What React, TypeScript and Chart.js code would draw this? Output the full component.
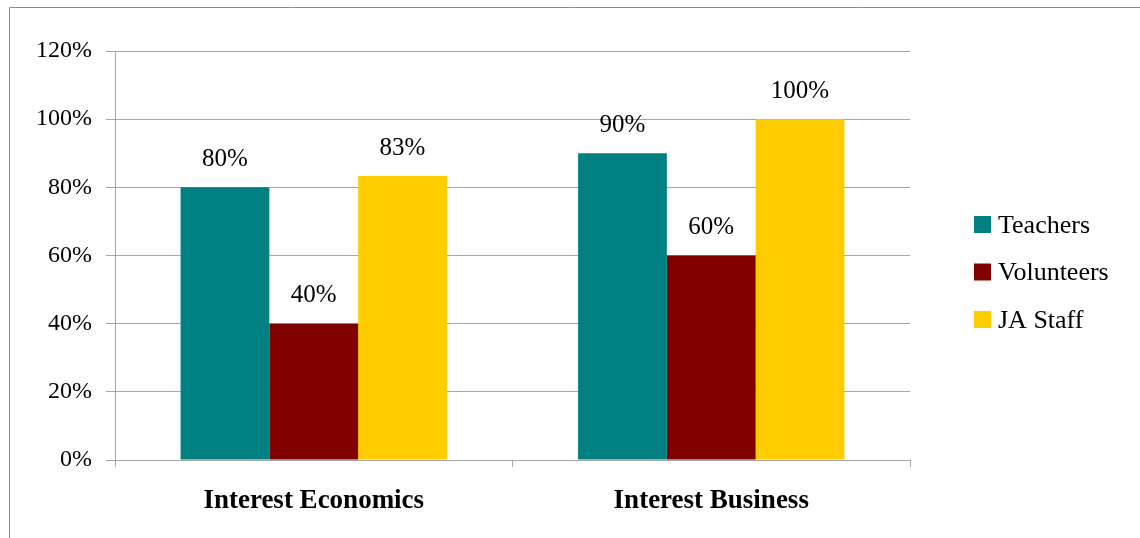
import React, { useEffect, useRef } from "react";
import { Chart, registerables } from "chart.js";

Chart.register(...registerables);

const categories = ["Interest Economics", "Interest Business"];
const seriesNames = ["Teachers", "Volunteers", "JA Staff"];
const teachers = [80, 90];
const volunteers = [40, 60];
const jaStaff = [83.33, 100];
const seriesColors = ["#008080", "#800000", "#FFCC00"];
const yTicks = [0, 20, 40, 60, 80, 100, 120];

const FONT = "'Liberation Serif', 'Times New Roman', serif";

const borderPlugin = {
  id: "outerBorder",
  beforeDraw(chart: any) {
    const ctx = chart.ctx;
    ctx.save();
    ctx.fillStyle = "#ffffff";
    ctx.fillRect(0, 0, chart.width, chart.height);
    ctx.strokeStyle = "#8c8c8c";
    ctx.lineWidth = 1;
    ctx.beginPath();
    ctx.moveTo(9.5, chart.height + 2);
    ctx.lineTo(9.5, 7.5);
    ctx.lineTo(chart.width + 2, 7.5);
    ctx.stroke();
    ctx.restore();
  },
};

const labelPlugin = {
  id: "barLabels",
  afterDatasetsDraw(chart: any) {
    const ctx = chart.ctx;
    ctx.save();
    ctx.font = `25px ${FONT}`;
    ctx.fillStyle = "#000";
    ctx.textAlign = "center";
    ctx.textBaseline = "middle";
    chart.data.datasets.forEach((ds: any, i: number) => {
      const meta = chart.getDatasetMeta(i);
      meta.data.forEach((bar: any, j: number) => {
        const v = ds.data[j];
        ctx.fillText(Math.round(v) + "%", bar.x, bar.y - 28);
      });
    });
    ctx.restore();
  },
};

const legendPlugin = {
  id: "customLegend",
  afterDraw(chart: any) {
    const ctx = chart.ctx;
    ctx.save();
    ctx.font = `26px ${FONT}`;
    ctx.textBaseline = "middle";
    ctx.textAlign = "left";
    const startY = 225;
    const step = 47.5;
    chart.data.datasets.forEach((ds: any, i: number) => {
      const cy = startY + i * step;
      ctx.fillStyle = ds.backgroundColor;
      ctx.fillRect(974, cy - 9, 17, 17);
      ctx.fillStyle = "#000";
      ctx.fillText(ds.label, 998, cy + 1);
    });
    ctx.restore();
  },
};

export default function App() {
  const ref = useRef<HTMLCanvasElement>(null);
  useEffect(() => {
    if (!ref.current) return;
    const chart = new Chart(ref.current, {
      type: "bar",
      data: {
        labels: categories,
        datasets: [teachers, volunteers, jaStaff].map((d, i) => ({
          label: seriesNames[i],
          data: d,
          backgroundColor: seriesColors[i],
          borderWidth: 0,
          categoryPercentage: 0.67,
          barPercentage: 1,
        })),
      },
      options: {
        responsive: false,
        animation: false,
        events: [],
        layout: { padding: { left: 0, top: 51, right: 230, bottom: 0 } },
        plugins: {
          legend: { display: false },
          tooltip: { enabled: false },
          title: { display: false },
        },
        scales: {
          x: {
            grid: {
              offset: true,
              drawOnChartArea: false,
              drawTicks: true,
              tickLength: 7,
              color: "#a6a6a6",
            },
            border: { display: true, color: "#a6a6a6" },
            ticks: {
              color: "#000",
              padding: 18,
              font: { family: FONT, size: 27, weight: "bold" },
            },
            afterFit(scale: any) {
              scale.height = 538 - 460;
            },
          },
          y: {
            min: 0,
            max: 120,
            afterBuildTicks(scale: any) {
              scale.ticks = yTicks.map((v) => ({ value: v }));
            },
            grid: {
              color: "#a6a6a6",
              drawTicks: true,
              tickLength: 9,
            },
            border: { display: true, color: "#a6a6a6" },
            ticks: {
              color: "#000",
              padding: 14,
              font: { family: FONT, size: 24 },
              callback: (v: any) => v + "%",
            },
            afterFit(scale: any) {
              scale.width = 115;
            },
          },
        },
      },
      plugins: [borderPlugin, labelPlugin, legendPlugin],
    });
    return () => chart.destroy();
  }, []);
  return (
    <div style={{ position: "fixed", left: 0, top: 0, width: 1140, height: 538, background: "#fff" }}>
      <canvas ref={ref} width={1140} height={538} style={{ display: "block" }} />
    </div>
  );
}
